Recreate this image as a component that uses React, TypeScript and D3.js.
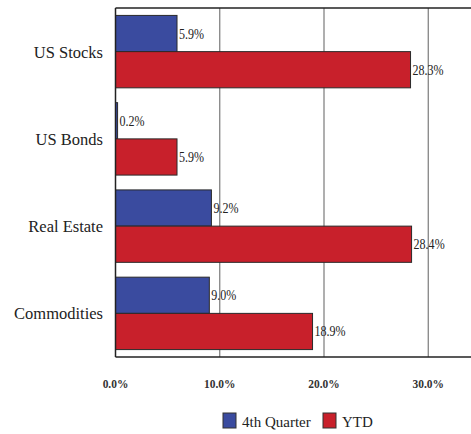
import React from "react";
import * as d3 from "d3";

const categories = ["US Stocks", "US Bonds", "Real Estate", "Commodities"];
const seriesNames = ["4th Quarter", "YTD"];
const q4Values = [5.9, 0.2, 9.2, 9.0];
const ytdValues = [28.3, 5.9, 28.4, 18.9];
const tickValues = [0, 10, 20, 30];
const colors = ["#3a4b9f", "#c8202b"];

const W = 471;
const H = 434;
const FONT = '"Liberation Serif", "Times New Roman", Tinos, serif';

export default function App() {
  const x = d3.scaleLinear().domain([0, 34.1]).range([115.5, 471]);
  const y = d3
    .scaleBand<string>()
    .domain(categories)
    .range([8, 357])
    .paddingInner(0.17)
    .paddingOuter(0.085);
  const sub = d3
    .scaleBand<string>()
    .domain(seriesNames)
    .range([0, y.bandwidth()]);
  const series = [q4Values, ytdValues];

  return (
    <div style={{ position: "absolute", left: 0, top: 0, fontFamily: FONT }}>
      <style>{`svg text { font-family: ${FONT} !important; }`}</style>
      <svg width={W} height={H} fontFamily={FONT} style={{ display: "block", background: "#fff" }}>
        {tickValues.slice(1).map((t) => (
          <line
            key={t}
            x1={x(t)}
            x2={x(t)}
            y1={8}
            y2={357}
            stroke="#7a7a7a"
            strokeWidth={1.2}
          />
        ))}
        {categories.map((c, i) =>
          series.map((vals, s) => {
            const by = (y(c) as number) + (sub(seriesNames[s]) as number);
            const bh = sub.bandwidth();
            const lx = x(vals[i]) + 2;
            return (
              <g key={c + s}>
                <rect
                  x={x(0)}
                  y={by}
                  width={x(vals[i]) - x(0)}
                  height={bh}
                  fill={colors[s]}
                  stroke="#2a2a2a"
                  strokeWidth={1}
                />
                <text
                  x={lx}
                  y={by + bh / 2 + 5}
                  fontSize={14}
                  fill="#222"
                  transform={`translate(${lx},0) scale(0.86,1) translate(${-lx},0)`}
                >
                  {vals[i].toFixed(1)}%
                </text>
              </g>
            );
          })
        )}
        <line x1={115.5} x2={471} y1={8} y2={8} stroke="#222" strokeWidth={1.5} />
        <line x1={115.5} x2={471} y1={357} y2={357} stroke="#222" strokeWidth={1.5} />
        <line x1={115.5} x2={115.5} y1={8} y2={357} stroke="#222" strokeWidth={1.5} />
        {categories.map((c) => (
          <text
            key={c}
            x={103}
            y={(y(c) as number) + y.bandwidth() / 2 + 6}
            textAnchor="end"
            fontSize={16.5}
            fill="#222"
          >
            {c}
          </text>
        ))}
        {tickValues.map((t) => (
          <text
            key={t}
            x={x(t)}
            y={388}
            textAnchor="middle"
            fontSize={13}
            fontWeight="bold"
            fill="#333"
            transform={`translate(${x(t)},0) scale(0.88,1) translate(${-x(t)},0)`}
          >
            {t.toFixed(1)}%
          </text>
        ))}
        {seriesNames.map((n, s) => {
          const lx = s === 0 ? 223 : 323;
          return (
            <g key={n}>
              <rect
                x={lx}
                y={413}
                width={13}
                height={15}
                fill={colors[s]}
                stroke="#333"
                strokeWidth={1}
              />
              <text x={lx + 19} y={427} fontSize={15} fill="#222">
                {n}
              </text>
            </g>
          );
        })}
      </svg>
    </div>
  );
}
